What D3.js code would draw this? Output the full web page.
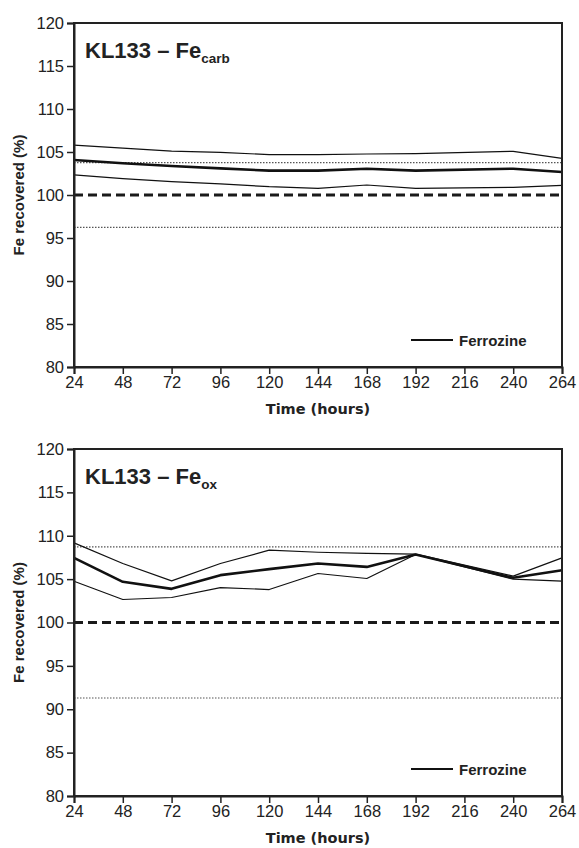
<!DOCTYPE html>
<html><head><meta charset="utf-8">
<script src="https://cdn.jsdelivr.net/npm/d3@7"></script>
<style>body{margin:0;background:#fff}svg{display:block}</style>
</head><body>
<script>
const hours = [24, 48, 72, 96, 120, 144, 168, 192, 240, 264];
const xTicks = [24, 48, 72, 96, 120, 144, 168, 192, 216, 240, 264];
const yTicks = [80, 85, 90, 95, 100, 105, 110, 115, 120];

const carbMean  = [104.07, 103.7, 103.37, 103.1, 102.83, 102.83, 103.06, 102.83, 103.06, 102.67];
const carbUpper = [105.8, 105.45, 105.1, 104.95, 104.7, 104.7, 104.77, 104.8, 105.08, 104.26];
const carbLower = [102.33, 101.9, 101.55, 101.3, 100.97, 100.78, 101.16, 100.78, 100.89, 101.12];
const carbRef = [96.24, 103.76];

const oxMean  = [107.45, 104.69, 103.88, 105.46, 106.15, 106.8, 106.41, 107.84, 105.15, 106.03];
const oxUpper = [109.18, 106.8, 104.8, 106.8, 108.34, 108.1, 107.96, 107.88, 105.35, 107.45];
const oxLower = [104.76, 102.65, 102.88, 104.03, 103.8, 105.65, 105.07, 107.84, 105.0, 104.76];
const oxRef = [91.3, 108.72];

const W = 579, H = 848;
const svg = d3.select("body").append("svg").attr("width", W).attr("height", H);

function panel(top, bottom, sub, mean, upper, lower, ref) {
  const x = d3.scaleLinear().domain([24, 264]).range([74, 562]);
  const y = d3.scaleLinear().domain([80, 120]).range([bottom, top]);
  const g = svg.append("g");
  const font = "Liberation Sans, Arial, sans-serif";

  ref.forEach(v => {
    g.append("line").attr("x1", x(24)).attr("x2", x(264)).attr("y1", y(v)).attr("y2", y(v))
      .attr("stroke", "#555").attr("stroke-width", 1.1).attr("stroke-dasharray", "1.5,1.5");
  });
  g.append("line").attr("x1", x(24)).attr("x2", x(264)).attr("y1", y(100)).attr("y2", y(100))
    .attr("stroke", "#1a1a1a").attr("stroke-width", 3).attr("stroke-dasharray", "9,5");

  const line = d3.line().x((d, i) => x(hours[i])).y(d => y(d));
  [[upper, 1.2], [lower, 1.2], [mean, 2.6]].forEach(([s, w]) => {
    g.append("path").datum(s).attr("d", line).attr("fill", "none")
      .attr("stroke", "#111").attr("stroke-width", w).attr("stroke-linejoin", "round");
  });

  g.append("rect").attr("x", x(24)).attr("y", y(120)).attr("width", x(264) - x(24))
    .attr("height", y(80) - y(120)).attr("fill", "none").attr("stroke", "#222").attr("stroke-width", 2);

  const yAxis = g.append("g").attr("transform", `translate(${x(24)},0)`)
    .call(d3.axisLeft(y).tickValues(yTicks).tickSize(7).tickPadding(3));
  const xAxis = g.append("g").attr("transform", `translate(0,${y(80)})`)
    .call(d3.axisBottom(x).tickValues(xTicks).tickSize(7).tickPadding(2));
  [yAxis, xAxis].forEach(a => {
    a.select(".domain").attr("stroke", "#222").attr("stroke-width", 2);
    a.selectAll(".tick line").attr("stroke", "#222").attr("stroke-width", 1.5);
    a.selectAll("text").attr("font-family", font).attr("font-size", 16.5).attr("fill", "#222");
  });

  g.append("text").attr("x", (x(24) + x(264)) / 2).attr("y", y(80) + 47)
    .attr("text-anchor", "middle").attr("font-family", "DejaVu Sans, sans-serif").attr("font-weight", "bold")
    .attr("font-size", 14.5).attr("fill", "#222").text("Time (hours)");
  g.append("text").attr("transform", `translate(24,${y(100)}) rotate(-90)`)
    .attr("text-anchor", "middle").attr("font-family", font).attr("font-weight", "bold")
    .attr("font-size", 15).attr("fill", "#222").text("Fe recovered (%)");

  const t = g.append("text").attr("x", x(24) + 11).attr("y", y(120) + 35)
    .attr("font-family", font).attr("font-weight", "bold").attr("font-size", 22).attr("fill", "#222");
  t.append("tspan").text("KL133 – Fe");
  t.append("tspan").attr("dy", 5).attr("font-size", 13.5).text(sub);

  const ly = y(80) - 27;
  g.append("line").attr("x1", 411).attr("x2", 453).attr("y1", ly).attr("y2", ly)
    .attr("stroke", "#111").attr("stroke-width", 2);
  g.append("text").attr("x", 459).attr("y", ly + 5.5).attr("font-family", font).attr("font-weight", "bold")
    .attr("font-size", 15).attr("fill", "#222").text("Ferrozine");
}

panel(23, 367, "carb", carbMean, carbUpper, carbLower, carbRef);
panel(449, 796, "ox", oxMean, oxUpper, oxLower, oxRef);
</script>
</body></html>
